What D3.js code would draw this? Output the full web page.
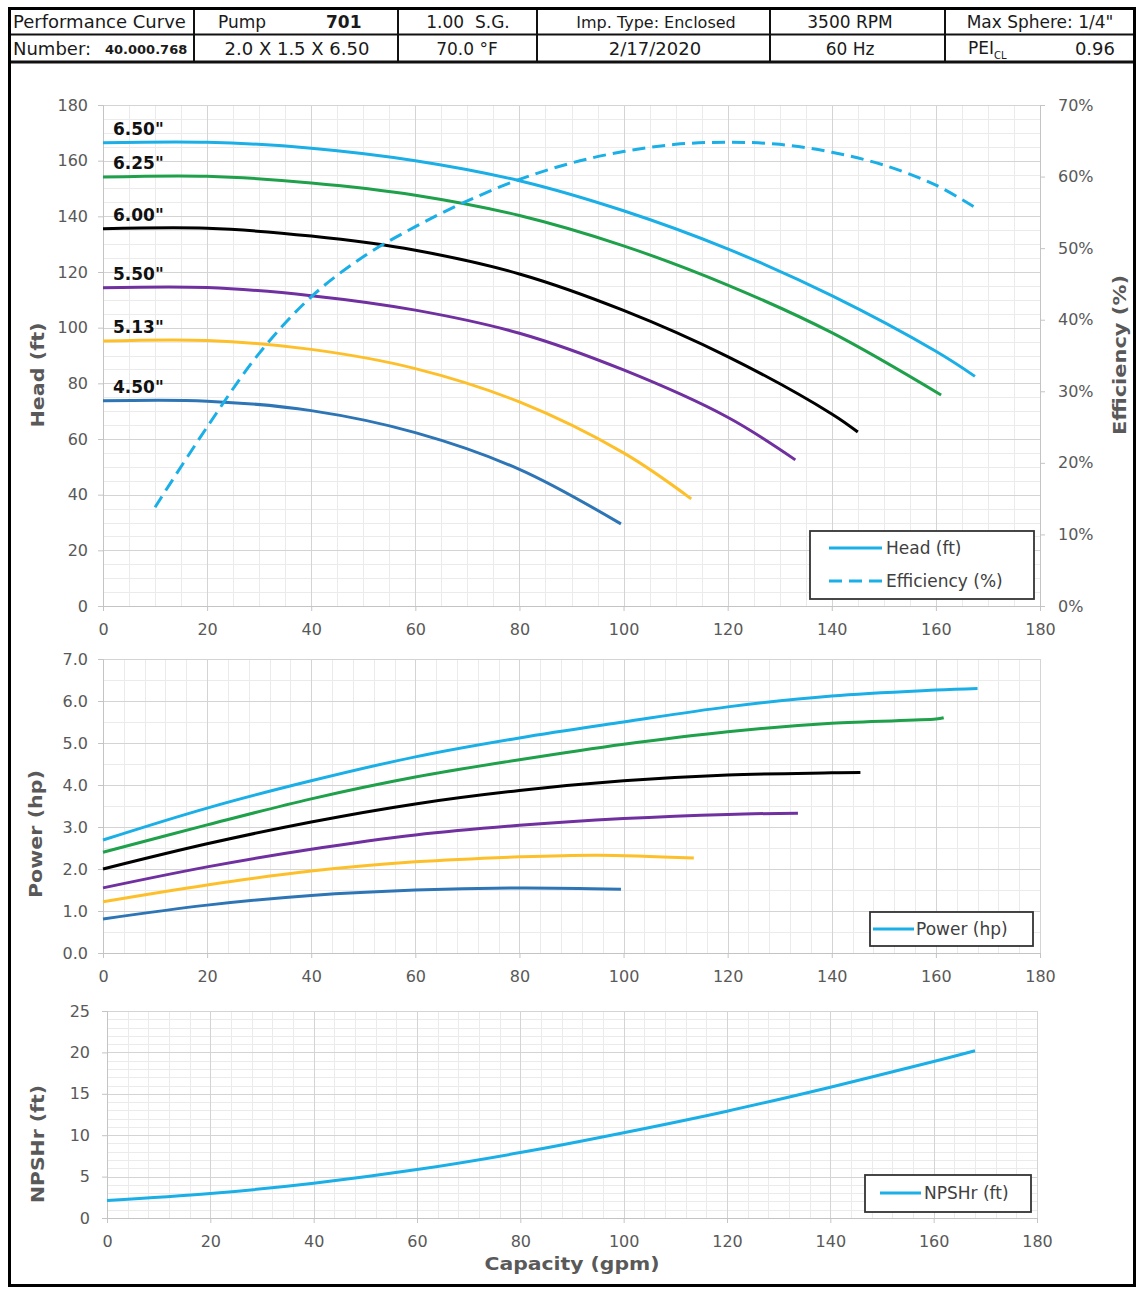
<!DOCTYPE html>
<html><head><meta charset="utf-8">
<script src="https://cdn.jsdelivr.net/npm/d3@7"></script>
<style>body{margin:0;background:#fff} svg{display:block}</style>
</head><body><svg id="c" width="1140" height="1291"></svg>
<script>
// ---------------- DATA ----------------
const capacityTicks = [0,20,40,60,80,100,120,140,160,180];
const headTicks = [0,20,40,60,80,100,120,140,160,180];
const effTicks = [0,10,20,30,40,50,60,70];
const powerTicks = [0,1,2,3,4,5,6,7];
const npshTicks = [0,5,10,15,20,25];
const diameterLabels = ['6.50"','6.25"','6.00"','5.50"','5.13"','4.50"'];

// Head (ft) vs capacity (gpm)
const head650 = [[0,166.4],[20,166.6],[40,164.5],[60,160],[80,152.8],[100,142],[120,128.3],[140,111.5],[160,91.5],[167.5,82.5]];
const head625 = [[0,154.1],[20,154.4],[40,152],[60,147.6],[80,140.3],[100,129.4],[120,115.3],[140,98.2],[161,75.8]];
const head600 = [[0,135.5],[20,135.7],[40,132.9],[60,127.8],[80,119.3],[100,106.2],[120,89.6],[140,69],[145,62.5]];
const head550 = [[0,114.3],[20,114.4],[40,111.5],[60,106.3],[80,98],[100,84.8],[120,67.8],[133,52.5]];
const head513 = [[0,95.2],[20,95.4],[40,92.2],[60,85.3],[80,73.3],[100,55],[113,38.5]];
const head450 = [[0,73.7],[20,73.6],[40,70.2],[60,62.3],[80,49.1],[99.5,29.5]];

// Efficiency (%) vs capacity (gpm)
const efficiency = [[10,13.8],[20,25],[30,35.3],[40,43.2],[50,48.8],[60,53],[70,56.6],[80,59.6],[90,61.9],[100,63.5],[110,64.5],[120,64.8],[130,64.5],[140,63.4],[150,61.6],[160,58.8],[167.5,55.7]];

// Power (hp) vs capacity (gpm)
const power650 = [[0,2.69],[20,3.45],[40,4.1],[60,4.67],[80,5.12],[100,5.5],[120,5.86],[140,6.12],[160,6.26],[168,6.3]];
const power625 = [[0,2.4],[20,3.05],[40,3.67],[60,4.19],[80,4.6],[100,4.97],[120,5.27],[140,5.47],[160,5.57],[161.5,5.6]];
const power600 = [[0,2.0],[20,2.6],[40,3.12],[60,3.55],[80,3.87],[100,4.1],[120,4.24],[140,4.29],[145.5,4.3]];
const power550 = [[0,1.55],[20,2.05],[40,2.47],[60,2.81],[80,3.04],[100,3.2],[120,3.3],[133.5,3.33]];
const power513 = [[0,1.22],[20,1.62],[40,1.95],[60,2.17],[80,2.29],[95,2.33],[113.5,2.26]];
const power450 = [[0,0.81],[20,1.14],[40,1.37],[60,1.5],[80,1.55],[99.5,1.52]];

// NPSHr (ft) vs capacity (gpm)
const npshr = [[0,2.1],[20,2.95],[40,4.2],[60,5.85],[80,7.9],[100,10.3],[120,12.9],[140,15.8],[160,18.9],[168,20.2]];

const headerRow1 = ["Performance Curve","Pump","701","1.00  S.G.","Imp. Type: Enclosed","3500 RPM","Max Sphere: 1/4\""];
const headerRow2 = ["Number:","40.000.768","2.0 X 1.5 X 6.50","70.0 °F","2/17/2020","60 Hz","PEI","CL","0.96"];

// ---------------- STYLE ----------------
const curveColors = ["#1AAFE6","#1FA04A","#000000","#7030A0","#FDC02A","#2E75B6"];
const lightBlue = "#1AAFE6";
const axisGray = "#595959";
const FONT = "DejaVu Sans, Verdana, sans-serif";

const headSeries = [head650, head625, head600, head550, head513, head450];
const powerSeries = [power650, power625, power600, power550, power513, power450];

const svg = d3.select("#c");
svg.append("rect").attr("width",1140).attr("height",1291).attr("fill","#fff");

const px = v => Math.round(v) + 0.5;

function panel(o){
  const x = d3.scaleLinear().domain([0,180]).range([o.left,o.right]);
  const y = d3.scaleLinear().domain(o.yDomain).range([o.bottom,o.top]);
  const g = svg.append("g");
  const nY = Math.round((o.yDomain[1]-o.yDomain[0])/o.yMinor);
  const nX = Math.round(180/o.xMinor);
  d3.range(0, nY+1).map(i=>o.yDomain[0]+i*o.yMinor).forEach(v=>{
    g.append("line").attr("x1",o.left).attr("x2",o.right).attr("y1",px(y(v))).attr("y2",px(y(v)))
     .attr("stroke","#ebebeb").attr("stroke-width",1);
  });
  d3.range(0, nX+1).map(i=>i*o.xMinor).forEach(v=>{
    g.append("line").attr("y1",o.top).attr("y2",o.bottom).attr("x1",px(x(v))).attr("x2",px(x(v)))
     .attr("stroke","#ebebeb").attr("stroke-width",1);
  });
  o.yTicks.forEach(v=>{
    g.append("line").attr("x1",o.left).attr("x2",o.right).attr("y1",px(y(v))).attr("y2",px(y(v)))
     .attr("stroke","#d4d4d4").attr("stroke-width",1);
  });
  capacityTicks.forEach(v=>{
    g.append("line").attr("y1",o.top).attr("y2",o.bottom).attr("x1",px(x(v))).attr("x2",px(x(v)))
     .attr("stroke","#d4d4d4").attr("stroke-width",1);
  });
  const ax = svg.append("g").attr("transform",`translate(0,${Math.round(o.bottom)})`)
    .call(d3.axisBottom(x).tickValues(capacityTicks).tickSize(5).tickPadding(13).tickFormat(d3.format("d")));
  const ay = svg.append("g").attr("transform",`translate(${Math.round(o.left)},0)`)
    .call(d3.axisLeft(y).tickValues(o.yTicks).tickSize(5).tickPadding(o.yPad||10).tickFormat(o.yFmt));
  [ax,ay].forEach(a=>{
    a.selectAll("path,line").attr("stroke","#c4c4c4").attr("stroke-width",1);
    a.selectAll("text").attr("fill",axisGray).attr("font-family",FONT).attr("font-size",16);
  });
  return {x,y};
}

function axisTitle(text, cx, cy, rotate, len){
  const t = svg.append("text").attr("x",0).attr("y",0)
    .attr("transform",`translate(${cx},${cy}) rotate(${rotate})`)
    .attr("text-anchor","middle").attr("dominant-baseline","central")
    .attr("font-family",FONT).attr("font-weight","bold").attr("font-size",18)
    .attr("fill",axisGray).text(text);
  if(len) t.attr("textLength",len).attr("lengthAdjust","spacingAndGlyphs");
}

const lineGen = (sx,sy)=>d3.line().x(d=>sx(d[0])).y(d=>sy(d[1])).curve(d3.curveCatmullRom.alpha(0.5));

// ---------------- HEAD / EFFICIENCY PANEL ----------------
const P1 = panel({left:103,right:1040,top:105,bottom:606,yDomain:[0,180],yTicks:headTicks,yMinor:5,xMinor:5,yFmt:d3.format("d")});
const effScale = d3.scaleLinear().domain([0,70]).range([606,105]);
const ar = svg.append("g").attr("transform","translate(1040,0)")
  .call(d3.axisRight(effScale).tickValues(effTicks).tickSize(5).tickPadding(13).tickFormat(d=>d+"%"));
ar.selectAll("path,line").attr("stroke","#c4c4c4").attr("stroke-width",1);
ar.selectAll("text").attr("fill",axisGray).attr("font-family",FONT).attr("font-size",16);

headSeries.forEach((s,i)=>{
  svg.append("path").attr("d",lineGen(P1.x,P1.y)(s)).attr("fill","none")
    .attr("stroke",curveColors[i]).attr("stroke-width",3).attr("stroke-linecap","butt");
});
svg.append("path").attr("d",lineGen(P1.x,effScale)(efficiency)).attr("fill","none")
  .attr("stroke",lightBlue).attr("stroke-width",3).attr("stroke-dasharray","13,7");

headSeries.forEach((s,i)=>{
  svg.append("text").attr("x",P1.x(0)+10).attr("y",P1.y(s[0][1])-8)
    .attr("font-family",FONT).attr("font-weight","bold").attr("font-size",17)
    .attr("fill","#111").text(diameterLabels[i]);
});

svg.append("rect").attr("x",810).attr("y",531).attr("width",224).attr("height",68)
  .attr("fill","#fff").attr("stroke","#333").attr("stroke-width",1.8);
svg.append("line").attr("x1",829).attr("x2",882).attr("y1",548).attr("y2",548).attr("stroke",lightBlue).attr("stroke-width",3);
svg.append("line").attr("x1",829).attr("x2",882).attr("y1",581).attr("y2",581).attr("stroke",lightBlue).attr("stroke-width",3).attr("stroke-dasharray","13,7");
svg.append("text").attr("x",886).attr("y",548).attr("dominant-baseline","central").attr("font-family",FONT).attr("font-size",17).attr("fill","#404040").text("Head (ft)");
svg.append("text").attr("x",886).attr("y",581).attr("dominant-baseline","central").attr("font-family",FONT).attr("font-size",17).attr("fill","#404040").text("Efficiency (%)");

axisTitle("Head (ft)", 37, 375, -90, 105);
axisTitle("Efficiency (%)", 1119, 355, -90, 160);

// ---------------- POWER PANEL ----------------
const P2 = panel({left:103,right:1040,top:659,bottom:953,yDomain:[0,7],yTicks:powerTicks,yMinor:0.5,xMinor:4,yFmt:d3.format(".1f")});
powerSeries.forEach((s,i)=>{
  svg.append("path").attr("d",lineGen(P2.x,P2.y)(s)).attr("fill","none")
    .attr("stroke",curveColors[i]).attr("stroke-width",3);
});
svg.append("rect").attr("x",870).attr("y",912).attr("width",163).attr("height",34)
  .attr("fill","#fff").attr("stroke","#333").attr("stroke-width",1.8);
svg.append("line").attr("x1",873).attr("x2",914).attr("y1",929).attr("y2",929).attr("stroke",lightBlue).attr("stroke-width",3);
svg.append("text").attr("x",916).attr("y",929).attr("dominant-baseline","central").attr("font-family",FONT).attr("font-size",17).attr("fill","#404040").text("Power (hp)");
axisTitle("Power (hp)", 35, 834, -90, 128);

// ---------------- NPSHr PANEL ----------------
const P3 = panel({left:107,right:1037,top:1011,bottom:1218,yDomain:[0,25],yTicks:npshTicks,yMinor:1,xMinor:4,yFmt:d3.format("d"),yPad:12});
svg.append("path").attr("d",lineGen(P3.x,P3.y)(npshr)).attr("fill","none")
  .attr("stroke",lightBlue).attr("stroke-width",3);
svg.append("rect").attr("x",865).attr("y",1175).attr("width",166).attr("height",37)
  .attr("fill","#fff").attr("stroke","#333").attr("stroke-width",1.8);
svg.append("line").attr("x1",880).attr("x2",921).attr("y1",1193).attr("y2",1193).attr("stroke",lightBlue).attr("stroke-width",3);
svg.append("text").attr("x",924).attr("y",1193).attr("dominant-baseline","central").attr("font-family",FONT).attr("font-size",17).attr("fill","#404040").text("NPSHr (ft)");
axisTitle("NPSHr (ft)", 37, 1144, -90, 118);
axisTitle("Capacity (gpm)", 572, 1263, 0, 175);

// ---------------- HEADER TABLE ----------------
const hdr = svg.append("g").attr("font-family",FONT).attr("fill","#1a1a1a");
const colX = [10,194,398,537,770,945,1134];
colX.slice(1,-1).forEach(cx=>{
  hdr.append("line").attr("x1",cx).attr("x2",cx).attr("y1",9).attr("y2",62).attr("stroke","#111").attr("stroke-width",2);
});
hdr.append("line").attr("x1",10).attr("x2",1134).attr("y1",34.5).attr("y2",34.5).attr("stroke","#111").attr("stroke-width",2);
hdr.append("line").attr("x1",10).attr("x2",1134).attr("y1",62).attr("y2",62).attr("stroke","#111").attr("stroke-width",3);

const r1 = 28, r2 = 55;
function ht(x,y,t,opts){
  const e = hdr.append("text").attr("x",x).attr("y",y).text(t).attr("font-size",(opts&&opts.size)||18);
  if(opts&&opts.anchor) e.attr("text-anchor",opts.anchor);
  if(opts&&opts.bold) e.attr("font-weight","bold");
  return e;
}
ht(13,r1,headerRow1[0]);
ht(218,r1,headerRow1[1],{size:17});
ht(326,r1,headerRow1[2],{bold:true,size:17});
ht(468,r1,headerRow1[3],{anchor:"middle",size:17}).style("white-space","pre");
ht(656,r1,headerRow1[4],{anchor:"middle",size:16});
ht(850,r1,headerRow1[5],{anchor:"middle",size:17});
ht(1040,r1,headerRow1[6],{anchor:"middle",size:17});

ht(13,r2,headerRow2[0]);
ht(105,r2-1,headerRow2[1],{size:13,bold:true});
ht(297,r2,headerRow2[2],{anchor:"middle"});
ht(467,r2,headerRow2[3],{anchor:"middle",size:17});
ht(655,r2,headerRow2[4],{anchor:"middle"});
ht(850,r2,headerRow2[5],{anchor:"middle",size:17});
const pei = ht(968,r2-1,headerRow2[6],{size:17});
pei.append("tspan").attr("font-size",10).attr("dy",5).text(headerRow2[7]);
ht(1115,r2,headerRow2[8],{anchor:"end",size:18});

// ---------------- OUTER FRAME ----------------
svg.append("rect").attr("x",9.5).attr("y",8.5).attr("width",1125).attr("height",1277)
  .attr("fill","none").attr("stroke","#000").attr("stroke-width",3);
</script></body></html>
